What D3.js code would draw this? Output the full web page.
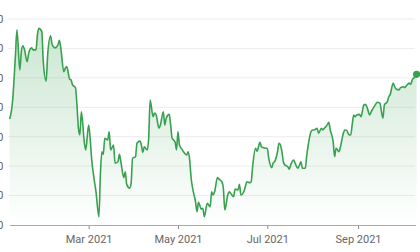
<!DOCTYPE html>
<html>
<head>
<meta charset="utf-8">
<script src="https://cdn.jsdelivr.net/npm/d3@7"></script>
<style>
  body { margin: 0; background: #fff; }
  svg { display: block; font-family: Roboto, "Noto Sans", sans-serif; }
</style>
</head>
<body>
<svg width="420" height="252"></svg>
<script>
// day of year 2021 (Jan 1 = 0) for each reading
const dayOfYear = [
  5, 6, 7, 9, 10, 12, 13, 14, 15, 17, 18, 20, 21, 23, 24, 25, 27, 28, 30, 31, 33, 34, 36, 38, 39, 40, 42, 43, 44, 46,
  47, 48, 50, 51, 52, 53, 54, 56, 57, 59, 60, 61, 63, 64, 66, 67, 68, 69, 70, 72, 73, 74, 76, 77, 79, 80, 81, 83, 84, 85, 87, 88, 89, 91, 92, 94,
  95, 96, 97, 99, 100, 101, 103, 104, 105, 107, 108, 110, 111, 112, 114, 115, 116, 118, 119, 120, 121, 123, 124, 126, 127, 128, 129, 130, 132, 133, 134, 136, 137, 138, 140, 141,
  142, 143, 144, 145, 147, 148, 150, 151, 152, 154, 155, 156, 158, 159, 161, 162, 163, 165, 166, 167, 169, 170, 171, 173, 174, 176, 177, 178, 180, 181, 182, 184, 185, 186, 188, 189,
  190, 191, 192, 193, 195, 196, 197, 199, 200, 202, 203, 204, 205, 207, 208, 209, 211, 212, 213, 215, 216, 218, 219, 220, 222, 223, 224, 226, 227, 228, 230, 231, 233, 234, 235, 237,
  238, 239, 240, 241, 242, 244, 245, 247, 248, 249, 251, 252, 253, 255, 256, 258, 259, 260, 261, 263, 264, 265, 267, 268, 269, 271, 272, 274, 275, 276, 278, 279, 280, 282, 283
];

const prices = [
  56.0, 58.0, 61.9, 77.8, 86.3, 72.7, 78.9, 80.9, 80.0, 75.5, 78.3, 80.2, 79.5, 79.5, 84.6, 86.8, 85.7, 75.5, 68.9, 77.8, 84.3, 81.4, 80.2, 81.2, 82.8, 80.0, 72.1, 73.2, 73.8, 69.6,
  69.3, 67.6, 66.7, 60.8, 52.9, 50.6, 58.5, 48.3, 45.5, 54.0, 49.5, 42.7, 34.7, 31.3, 22.8, 37.0, 44.9, 44.0, 49.5, 48.9, 51.7, 45.5, 47.2, 41.0, 41.5, 44.0, 41.5, 36.1, 38.1, 33.8, 32.5, 34.2, 42.7, 43.2, 47.8, 48.5,
  47.2, 44.7, 46.6, 45.5, 49.5, 62.5, 56.8, 58.0, 57.6, 52.9, 54.0, 58.5, 54.0, 56.3, 57.6, 54.0, 49.5, 48.3, 45.5, 51.7, 47.2, 45.5, 44.7, 43.8, 44.9, 42.1, 35.9, 32.5, 27.9, 24.5, 27.7, 25.4, 25.7, 22.8, 27.4, 26.8,
  26.2, 31.3, 30.2, 31.3, 36.1, 35.6, 34.7, 32.5, 25.1, 30.2, 31.3, 30.8, 29.6, 32.2, 31.9, 33.8, 30.2, 31.3, 33.0, 34.7, 34.4, 34.7, 39.8, 46.1, 45.1, 48.1, 46.6, 46.3, 46.1, 46.1, 42.7, 39.5, 41.0, 41.5, 44.9, 47.8,
  47.2, 44.9, 41.5, 40.4, 39.8, 39.0, 40.4, 42.1, 41.0, 39.3, 40.4, 41.5, 39.3, 39.3, 43.8, 47.2, 51.9, 52.3, 52.3, 52.9, 51.2, 52.9, 52.3, 52.9, 54.0, 54.9, 52.3, 48.3, 43.2, 46.1, 44.9, 46.6, 51.2, 52.3, 52.3, 50.6,
  50.6, 54.0, 57.4, 56.8, 57.4, 57.6, 56.8, 60.8, 61.0, 60.2, 57.4, 58.5, 59.4, 61.0, 61.7, 61.4, 58.5, 56.3, 60.8, 61.9, 63.6, 64.4, 68.2, 67.0, 66.2, 65.9, 66.7, 67.0, 66.7, 67.3, 68.2, 67.8, 69.3, 70.4, 71.2
];

const yTicks = [20, 30, 40, 50, 60, 70, 80, 90];

const svg = d3.select("svg");
const lineColor = "#38a14f";

const data = dayOfYear.map((d, i) => ({
  date: new Date(2021, 0, 1 + d),
  value: prices[i]
}));

const x = d3.scaleTime()
  .domain(d3.extent(data, d => d.date))
  .range([9.6, 416.6]);

const y = d3.scaleLinear()
  .domain([20, 90])
  .range([225, 19]);

// gradient for the area
const defs = svg.append("defs");
const grad = defs.append("linearGradient")
  .attr("id", "fade")
  .attr("x1", 0).attr("y1", 0).attr("x2", 0).attr("y2", 1);
grad.append("stop").attr("offset", "0%").attr("stop-color", lineColor).attr("stop-opacity", 0.26);
grad.append("stop").attr("offset", "100%").attr("stop-color", lineColor).attr("stop-opacity", 0);

// grid
svg.append("g")
  .selectAll("line")
  .data(yTicks.slice(1))
  .join("line")
  .attr("x1", 8)
  .attr("x2", 415)
  .attr("y1", d => y(d))
  .attr("y2", d => y(d))
  .attr("stroke", "#ececec")
  .attr("stroke-width", 1);

// y labels, mostly cut off by left edge
svg.append("g")
  .selectAll("text")
  .data(yTicks)
  .join("text")
  .attr("x", 3.5)
  .attr("y", d => y(d))
  .attr("dy", "0.35em")
  .attr("text-anchor", "end")
  .attr("font-size", 11)
  .attr("fill", "#666")
  .text(d => d);

const area = d3.area()
  .x(d => x(d.date))
  .y0(y(20))
  .y1(d => y(d.value))
  .curve(d3.curveMonotoneX);

const line = d3.line()
  .x(d => x(d.date))
  .y(d => y(d.value))
  .curve(d3.curveMonotoneX);

svg.append("path")
  .datum(data)
  .attr("d", area)
  .attr("fill", "url(#fade)");

// x axis
const xAxis = d3.axisBottom(x)
  .ticks(d3.timeMonth.every(2))
  .tickFormat(d3.timeFormat("%b %Y"))
  .tickSize(4)
  .tickPadding(6);

const gx = svg.append("g")
  .attr("transform", `translate(0,${y(20)})`)
  .call(xAxis);
gx.select(".domain").remove();
gx.selectAll(".tick line").attr("stroke", "#888");
gx.selectAll(".tick text")
  .attr("font-size", 11)
  .attr("font-family", "Roboto, sans-serif")
  .attr("fill", "#666");

svg.append("line")
  .attr("x1", 10)
  .attr("x2", 416)
  .attr("y1", y(20) + 0.5)
  .attr("y2", y(20) + 0.5)
  .attr("stroke", "#aaa");

svg.append("path")
  .datum(data)
  .attr("d", line)
  .attr("fill", "none")
  .attr("stroke", lineColor)
  .attr("stroke-width", 1.6)
  .attr("stroke-linejoin", "round");

const last = data[data.length - 1];
svg.append("circle")
  .attr("cx", x(last.date))
  .attr("cy", y(last.value))
  .attr("r", 3.6)
  .attr("fill", lineColor);
</script>
</body>
</html>
